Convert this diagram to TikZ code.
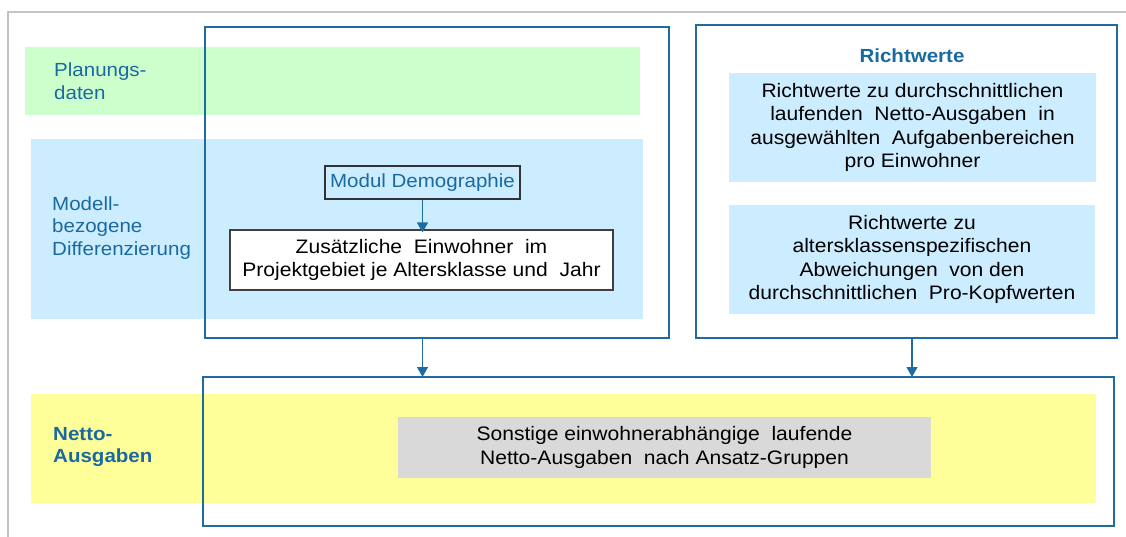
\documentclass[tikz,border=0pt]{standalone}
\usepackage{fontspec}
\setmainfont{Liberation Sans}[FakeStretch=1.08]
\usetikzlibrary{arrows.meta}

\definecolor{lineblue}{HTML}{1F6CA0}
\definecolor{labelblue}{HTML}{1A6AA0}
\definecolor{bandgreen}{HTML}{CCFFCC}
\definecolor{bandblue}{HTML}{CCECFF}
\definecolor{bandyellow}{HTML}{FFFF99}
\definecolor{boxgray}{HTML}{D9D9D9}
\definecolor{framegray}{HTML}{C4C4C4}

\tikzset{
  band/.style={draw=none, inner sep=0pt, outer sep=0pt},
  panel/.style={draw=lineblue, line width=1.5pt, inner sep=0pt, outer sep=0pt},
  txt/.style={font=\fontsize{19.5}{23.5}\selectfont, align=center, inner sep=0pt},
  sidelabel/.style={font=\fontsize{19}{22.5}\selectfont, text=labelblue, align=left, anchor=west, inner sep=0pt},
  flow/.style={draw=lineblue, line width=1.3pt, -{Triangle[width=11pt,length=10pt]}},
}

\begin{document}
\begin{tikzpicture}[x=1pt, y=-1pt]
\useasboundingbox (0,0) rectangle (1126,537);

% outer frame
\draw[framegray, line width=1.5pt] (1126,12) -- (8,12) -- (8,537);

% coloured bands
\node[band, fill=bandgreen, minimum width=615pt, minimum height=68pt] (planband) at (332.5,81) {};
\node[band, fill=bandblue, minimum width=612pt, minimum height=180pt] (modband) at (337,229) {};
\node[band, fill=bandyellow, minimum width=1065pt, minimum height=109pt] (netband) at (563.5,448.5) {};

% band labels
\node[sidelabel] (planlabel) at (54,81) {Planungs-\\daten};
\node[sidelabel] (modlabel) at (52,228) {Modell-\\bezogene\\Differenzierung};
\node[sidelabel, font=\fontsize{19}{22.5}\selectfont\bfseries] (netlabel) at (53,447) {Netto-\\Ausgaben};

% outlined panels
\node[panel, minimum width=464pt, minimum height=311pt] (leftbox) at (437,182.5) {};
\node[panel, minimum width=421pt, minimum height=313pt] (rightbox) at (906.5,181.5) {};
\node[panel, minimum width=911pt, minimum height=149pt] (netbox) at (658.5,451.5) {};

% demography module
\node[draw=black!80, line width=1.2pt, fill=bandblue, minimum width=195pt, minimum height=33pt,
      inner sep=0pt, font=\fontsize{19}{22}\selectfont, text=labelblue] (modul) at (422.5,182.5) {Modul Demographie};
\node[draw=black!75, line width=1.2pt, fill=white, minimum width=383pt, minimum height=60pt, txt] (zusatz) at (421.5,260)
  {Zusätzliche\ \ Einwohner\ \ im\\Projektgebiet\ je\ Altersklasse\ und\ \ Jahr};
\draw[flow] (modul.south) -- ([yshift=-3pt]zusatz.north -| modul.south);

% reference values
\node[font=\fontsize{19}{22}\selectfont\bfseries, text=labelblue, inner sep=0pt] (rwtitle) at (912,56) {Richtwerte};
\node[band, fill=bandblue, minimum width=367pt, minimum height=109pt, txt] (rw1) at (912.5,127.5)
  {Richtwerte\ zu\ durchschnittlichen\\laufenden\ \ Netto-Ausgaben\ \ in\\ausgewählten\ \ Aufgabenbereichen\\pro Einwohner};
\node[band, fill=bandblue, minimum width=366pt, minimum height=109pt, txt] (rw2) at (912,259.5)
  {Richtwerte zu\\altersklassenspezifischen\\Abweichungen\ \ von den\\durchschnittlichen\ \ Pro-Kopfwerten};

% resulting expenditure
\node[band, fill=boxgray, minimum width=533pt, minimum height=61pt, txt] (sonstige) at (664.5,447.5)
  {Sonstige\ einwohnerabhängige\ \ laufende\\Netto-Ausgaben\ \ nach\ Ansatz-Gruppen};

% flows into the expenditure panel
\draw[flow] (leftbox.south -| modul.south) -- (netbox.north -| modul.south);
\draw[flow] (rightbox.south -| rwtitle.south) -- (netbox.north -| rwtitle.south);
\end{tikzpicture}
\end{document}
